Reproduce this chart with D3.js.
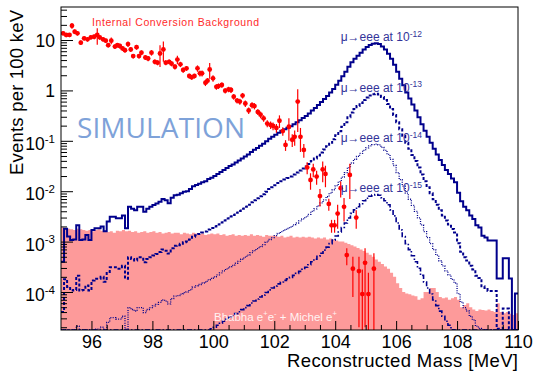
<!DOCTYPE html>
<html>
<head>
<meta charset="utf-8">
<script src="https://cdn.jsdelivr.net/npm/d3@7"></script>
<style>
body { margin: 0; background: #fff; }
text { font-family: "Liberation Sans", Arial, Helvetica, sans-serif; }
</style>
</head>
<body>
<svg id="chart" width="537" height="375"></svg>
<script>
// 100 keV bins from 95 to 110 MeV
var binStart = 95, binWidth = 0.1;

// mu -> eee signal MC, events per bin at BR = 1e-12 (same shape scaled for the other BRs)
var signalEvents = [
  4e-4, 1.8e-3, 1.26e-3, 1.07e-3, 1.1e-3, 2.1e-3, 1.07e-3, 1.1e-3, 1.35e-3, 1.07e-3,
  1.7e-3, 1.84e-3, 1.84e-3, 2.0e-3, 1.6e-3, 2.5e-3, 3.1e-3, 3.1e-3, 2.9e-3, 2.9e-3,
  3.3e-3, 1.84e-3, 4.9e-3, 4.5e-3, 4.2e-3, 4.9e-3, 4.9e-3, 3.9e-3, 4.5e-3, 4.9e-3,
  5.3e-3, 5.7e-3, 6.2e-3, 7.0e-3, 6.6e-3, 5.8e-3, 7.4e-3, 8.3e-3, 8.5e-3, 9.1e-3,
  9.7e-3, 0.0100, 0.0110, 0.0125, 0.0133, 0.0141, 0.0151, 0.0158, 0.0174, 0.0186,
  0.0200, 0.0219, 0.0240, 0.0263, 0.0288, 0.0316, 0.0339, 0.0372, 0.0407, 0.0447,
  0.0490, 0.0537, 0.0603, 0.0661, 0.0724, 0.0794, 0.0871, 0.0977, 0.110, 0.120,
  0.132, 0.145, 0.158, 0.170, 0.182, 0.195, 0.214, 0.234, 0.257, 0.282,
  0.309, 0.347, 0.398, 0.447, 0.513, 0.589, 0.676, 0.776, 0.912, 1.07,
  1.29, 1.55, 1.91, 2.34, 2.95, 3.63, 4.27, 4.90, 5.62, 6.46,
  7.24, 7.94, 8.41, 8.61, 8.32, 7.41, 6.46, 5.37, 4.27, 3.24,
  2.34, 1.70, 1.26, 0.912, 0.692, 0.525, 0.398, 0.295, 0.214, 0.158,
  0.120, 0.0912, 0.0692, 0.0537, 0.0417, 0.0331, 0.0263, 0.0219, 0.0178, 0.0151,
  0.0093, 0.0063, 0.0049, 0.0042, 0.0033, 0.0028, 0.0021, 0.0019, 0.0013, 0.0012,
  0.00105, 0.00105, 0.00105, 0.000186, 0.000186, 0.00047, 0.00047, 0.000186, 0, 0.000093
];
var branchingRatios = [1e-12, 1e-13, 1e-14, 1e-15];
var brExponents = ['-12', '-13', '-14', '-15'];

// Bhabha e+e- + Michel e+ background
var bhabhaEvents = [
  1.9e-3, 1.85e-3, 1.8e-3, 1.75e-3, 1.7e-3, 1.8e-3, 1.75e-3, 1.7e-3, 1.65e-3, 1.7e-3,
  1.6e-3, 1.7e-3, 1.75e-3, 1.65e-3, 1.6e-3, 1.55e-3, 1.6e-3, 1.5e-3, 1.65e-3, 1.6e-3,
  1.7e-3, 1.6e-3, 1.65e-3, 1.55e-3, 1.6e-3, 1.5e-3, 1.55e-3, 1.6e-3, 1.5e-3, 1.55e-3,
  1.6e-3, 1.5e-3, 1.55e-3, 1.45e-3, 1.5e-3, 1.55e-3, 1.45e-3, 1.5e-3, 1.5e-3, 1.4e-3,
  1.5e-3, 1.45e-3, 1.4e-3, 1.5e-3, 1.45e-3, 1.4e-3, 1.45e-3, 1.35e-3, 1.4e-3, 1.45e-3,
  1.4e-3, 1.45e-3, 1.35e-3, 1.4e-3, 1.3e-3, 1.35e-3, 1.4e-3, 1.3e-3, 1.35e-3, 1.3e-3,
  1.35e-3, 1.3e-3, 1.4e-3, 1.3e-3, 1.35e-3, 1.3e-3, 1.25e-3, 1.35e-3, 1.3e-3, 1.3e-3,
  1.3e-3, 1.25e-3, 1.3e-3, 1.2e-3, 1.25e-3, 1.3e-3, 1.2e-3, 1.25e-3, 1.2e-3, 1.25e-3,
  1.2e-3, 1.25e-3, 1.2e-3, 1.15e-3, 1.2e-3, 1.15e-3, 1.2e-3, 1.1e-3, 1.15e-3, 1.1e-3,
  1.05e-3, 1.0e-3, 1.0e-3, 0.95e-3, 0.9e-3, 0.85e-3, 0.8e-3, 0.75e-3, 0.7e-3, 0.65e-3,
  0.6e-3, 0.55e-3, 0.5e-3, 0.44e-3, 0.4e-3, 0.36e-3, 0.32e-3, 0.29e-3, 0.24e-3, 0.2e-3,
  1.5e-4, 1.2e-4, 1.0e-4, 9.3e-5, 9.0e-5, 8.5e-5, 8.2e-5, 7.0e-5, 7.5e-5, 1.0e-4,
  1.0e-4, 1.2e-4, 1.2e-4, 1.0e-4, 8.0e-5, 7.5e-5, 7.8e-5, 7.0e-5, 7.5e-5, 8.0e-5,
  7.0e-5, 5.0e-5, 5.5e-5, 6.0e-5, 5.0e-5, 4.5e-5, 4.2e-5, 4.5e-5, 4.4e-5, 4.3e-5,
  4.5e-5, 4.2e-5, 4.0e-5, 6.0e-5, 4.0e-5, 3.8e-5, 4.0e-5, 3.7e-5, 3.5e-5, 3.8e-5
];

// internal conversion background points
var icMass = [
  95.07, 95.17, 95.28, 95.36, 95.45, 95.54, 95.65, 95.76, 95.87, 95.98,
  96.09, 96.19, 96.27, 96.38, 96.47, 96.55, 96.65, 96.77, 96.85, 96.93,
  97.02, 97.10, 97.20, 97.29, 97.37, 97.48, 97.56, 97.64, 97.77, 97.86,
  97.97, 98.08, 98.17, 98.25, 98.36, 98.44, 98.55, 98.63, 98.74, 98.82,
  98.92, 99.01, 99.12, 99.21, 99.29, 99.38, 99.48, 99.56, 99.63, 99.74,
  99.81, 99.88, 99.99, 100.10, 100.17, 100.28, 100.39, 100.50, 100.58, 100.67,
  100.78, 100.87, 100.96, 101.05, 101.16, 101.27, 101.35, 101.46, 101.55, 101.65,
  101.77, 101.88, 101.96, 102.07, 102.17, 102.28, 102.37, 102.48, 102.59, 102.67,
  102.77, 102.86, 102.97, 103.08, 103.19, 103.28, 103.39, 103.50, 103.59, 103.68,
  103.79, 103.88, 103.98, 104.08, 104.18, 104.29, 104.38, 104.48, 104.58, 104.69,
  104.78, 104.89, 104.98, 105.09, 105.27
];
var icEvents = [
  13.6, 12.6, 12.6, 19.2, 14.6, 13.6, 8.85, 10.8, 10.3, 11.3,
  11.6, 12.6, 11.3, 10.3, 9.7, 7.9, 9.7, 7.4, 7.9, 7.6,
  6.8, 6.3, 8.3, 6.5, 4.8, 7.2, 4.8, 5.6, 4.5, 4.3,
  5.6, 3.7, 3.55, 5.4, 6.5, 3.55, 3.7, 3.4, 2.95, 4.1,
  3.3, 2.54, 2.74, 1.93, 1.82, 1.93, 2.74, 2.18, 2.18, 1.42,
  1.56, 2.6, 1.74, 1.18, 1.22, 1.28, 0.99, 1.05, 1.02, 0.75,
  0.63, 0.6, 0.79, 0.55, 0.4, 0.51, 0.49, 0.375, 0.33, 0.28,
  0.22, 0.206, 0.197, 0.18, 0.25, 0.156, 0.083, 0.19, 0.105, 0.12,
  0.6, 0.12, 0.066, 0.0297, 0.0167, 0.027, 0.0195, 0.008, 0.027, 0.022,
  0.0056, 0.0021, 0.0021, 0.0036, 0.0115, 0.0049, 5.4e-4, 0.021, 2.9e-4, 0.003,
  2.6e-4, 9.1e-5, 3.8e-4, 9.1e-5, 2.9e-4
];
var icError = [
  1.2, 1.2, 1.2, 2.5, 1.5, 1.3, 0.9, 1.0, 1.0, 1.1,
  1.2, 4.5, 1.2, 1.0, 1.0, 0.8, 1.5, 0.8, 0.8, 0.8,
  0.7, 0.7, 1.0, 0.7, 0.5, 0.8, 0.5, 0.6, 0.5, 0.5,
  0.7, 0.4, 0.4, 2.5, 2.8, 0.4, 0.4, 0.4, 0.35, 0.8,
  0.4, 0.3, 0.3, 0.2, 0.2, 0.2, 0.4, 0.3, 0.3, 0.2,
  0.2, 0.9, 0.25, 0.15, 0.15, 0.15, 0.12, 0.13, 0.13, 0.1,
  0.08, 0.08, 0.1, 0.08, 0.06, 0.07, 0.07, 0.05, 0.05, 0.04,
  0.035, 0.035, 0.035, 0.035, 0.07, 0.03, 0.02, 0.09, 0.03, 0.04,
  0.45, 0.06, 0.02, 0.008, 0.006, 0.008, 0.006, 0.003, 0.012, 0.01,
  0.0015, 0.0006, 0.0006, 0.0018, 0.004, 0.0024, 2e-4, 0.014, 2.1e-4, 0.0012,
  2.4e-4, 1.9e-4, 3.6e-4, 1.5e-4, 3e-4
];

// axis ticks
var xTickValues = [96, 98, 100, 102, 104, 106, 108, 110];
var yTickValues = [10, 1, 0.1, 0.01, 0.001, 0.0001];
var yTickBase = ['10', '1', '10', '10', '10', '10'];
var yTickExp = ['', '', '-1', '-2', '-3', '-4'];

var svg = d3.select('#chart');
var padLeft = 61, padRight = 518, padTop = 7, padBottom = 330;
var yMin = 1.762e-5, yMax = 45.2;

var xScale = d3.scaleLinear().domain([95, 110]).range([padLeft, padRight]);
var yScale = d3.scaleLog().domain([yMin, yMax]).range([padBottom, padTop]);

svg.append('defs').append('clipPath').attr('id', 'plotClip')
  .append('rect').attr('x', padLeft).attr('y', padTop)
  .attr('width', padRight - padLeft).attr('height', padBottom - padTop);

var plot = svg.append('g').attr('clip-path', 'url(#plotClip)');

function binPoints(values) {
  var pts = values.map(function(v, i) { return [binStart + i * binWidth, v]; });
  pts.push([binStart + values.length * binWidth, values[values.length - 1]]);
  return pts;
}
function yClamp(v) { return yScale(Math.min(Math.max(v, yMin), yMax)); }

// pink background histogram
var area = d3.area()
  .x(function(d) { return xScale(d[0]); })
  .y0(padBottom)
  .y1(function(d) { return yClamp(d[1]); })
  .curve(d3.curveStepAfter);
plot.append('path')
  .attr('d', area(binPoints(bhabhaEvents)))
  .attr('fill', '#fd9a9a');

// SIMULATION watermark
svg.append('text')
  .attr('x', 77).attr('y', 138)
  .attr('textLength', 168)
  .style('font-family', '"Open Sans", "Noto Sans", sans-serif')
  .style('font-size', '28px')
  .attr('fill', '#7ea2d9')
  .text('SIMULATION');

// signal histograms
var lineStyles = [
  { width: 2, dash: null },
  { width: 2, dash: '3,2' },
  { width: 1.3, dash: '1,1.3' },
  { width: 1.6, dash: '5,2,1.5,2' }
];
var stepLine = d3.line()
  .x(function(d) { return xScale(d[0]); })
  .y(function(d) { return yClamp(d[1]); })
  .curve(d3.curveStepAfter);

var peakEvents = d3.max(signalEvents);
branchingRatios.forEach(function(br, k) {
  var scale = br / branchingRatios[0];
  var vals = signalEvents.map(function(v) { return v * scale; });
  plot.append('path')
    .attr('d', stepLine(binPoints(vals)))
    .attr('fill', 'none')
    .attr('stroke', '#00008c')
    .attr('stroke-width', lineStyles[k].width)
    .attr('stroke-dasharray', lineStyles[k].dash);

  var lbl = svg.append('text')
    .attr('x', xScale(104.18))
    .attr('y', yScale(peakEvents * scale) - 2)
    .attr('fill', '#333399')
    .style('font-size', '12px')
    .text('\u03bc\u2192eee at 10');
  lbl.append('tspan')
    .attr('dy', -4.5)
    .style('font-size', '8.5px')
    .text(brExponents[k]);
});

// internal conversion points
var ic = plot.selectAll('.ic')
  .data(icMass.map(function(m, i) { return { m: m, v: icEvents[i], e: icError[i] }; }))
  .enter().append('g').attr('class', 'ic');
ic.append('line')
  .attr('x1', function(d) { return xScale(d.m); })
  .attr('x2', function(d) { return xScale(d.m); })
  .attr('y1', function(d) { return yClamp(d.v - d.e); })
  .attr('y2', function(d) { return yClamp(d.v + d.e); })
  .attr('stroke', '#ff0000')
  .attr('stroke-width', 1.2);
ic.append('circle')
  .attr('cx', function(d) { return xScale(d.m); })
  .attr('cy', function(d) { return yScale(d.v); })
  .attr('r', 2.4)
  .attr('fill', '#ff0000');

// labels inside the frame
svg.append('text')
  .attr('x', 92).attr('y', 25.5)
  .attr('textLength', 167)
  .attr('fill', '#ff2a2a')
  .style('font-size', '10.5px')
  .text('Internal Conversion Background');

var bh = svg.append('text')
  .attr('x', 214).attr('y', 321)
  .attr('fill', '#fff3f3')
  .style('font-size', '11.5px');
bh.append('tspan').text('Bhabha e');
bh.append('tspan').attr('dy', -5).style('font-size', '7.5px').text('+');
bh.append('tspan').attr('dy', 5).text('e');
bh.append('tspan').attr('dy', -5).style('font-size', '7.5px').text('-');
bh.append('tspan').attr('dy', 5).text(' + Michel e');
bh.append('tspan').attr('dy', -5).style('font-size', '7.5px').text('+');

// frame
svg.append('rect')
  .attr('x', padLeft).attr('y', padTop)
  .attr('width', padRight - padLeft).attr('height', padBottom - padTop)
  .attr('fill', 'none').attr('stroke', '#000').attr('stroke-width', 1);

// x axis
var xMinor = d3.range(95.5, 110, 0.5).filter(function(v) { return xTickValues.indexOf(v) < 0; });
var xMinorG = svg.append('g').attr('transform', 'translate(0,' + padBottom + ')')
  .call(d3.axisBottom(xScale).tickValues(xMinor).tickSize(-5).tickFormat(''));
var xMajorG = svg.append('g').attr('transform', 'translate(0,' + padBottom + ')')
  .call(d3.axisBottom(xScale).tickValues(xTickValues).tickSize(-9).tickPadding(5).tickFormat(d3.format('d')));
xMajorG.selectAll('text').style('font-size', '18px').attr('fill', '#000');

// y axis
var yMinor = [];
for (var dec = -5; dec <= 1; dec++) {
  for (var k = 2; k <= 9; k++) {
    var v = k * Math.pow(10, dec);
    if (v > yMin && v < yMax) yMinor.push(v);
  }
}
var yMinorG = svg.append('g').attr('transform', 'translate(' + padLeft + ',0)')
  .call(d3.axisLeft(yScale).tickValues(yMinor).tickSize(-6).tickFormat(''));
var yMajorG = svg.append('g').attr('transform', 'translate(' + padLeft + ',0)')
  .call(d3.axisLeft(yScale).tickValues(yTickValues).tickSize(-12).tickPadding(6)
    .tickFormat(function(d, i) { return yTickBase[i]; }));
yMajorG.selectAll('text')
  .style('font-size', '17.5px').attr('fill', '#000')
  .attr('dy', function(d, i) { return yTickExp[i] ? '0.5em' : '0.37em'; })
  .each(function(d, i) {
    if (yTickExp[i]) {
      d3.select(this).append('tspan').attr('dy', -7.5)
        .style('font-size', '11.5px').text(yTickExp[i]);
    }
  });

[xMinorG, xMajorG, yMinorG, yMajorG].forEach(function(g) {
  g.select('.domain').remove();
  g.selectAll('line').attr('stroke', '#000');
});

// axis titles
svg.append('text')
  .attr('x', padRight).attr('y', 367)
  .attr('text-anchor', 'end')
  .attr('textLength', 231)
  .style('font-size', '18.5px')
  .text('Reconstructed Mass [MeV]');

svg.append('text')
  .attr('transform', 'translate(23,10) rotate(-90)')
  .attr('text-anchor', 'end')
  .attr('textLength', 165)
  .style('font-size', '18.5px')
  .text('Events per 100 keV');
</script>
</body>
</html>
